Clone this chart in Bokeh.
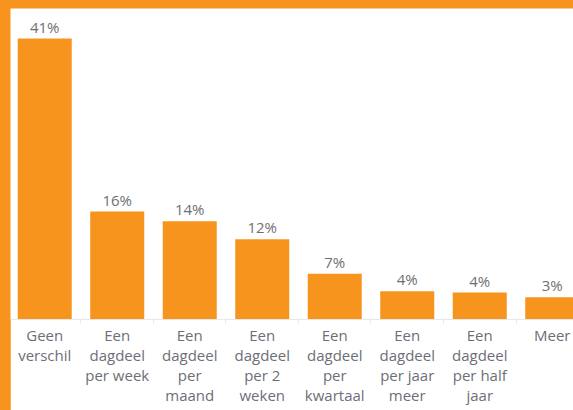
from bokeh.plotting import figure
from bokeh.models import ColumnDataSource, Range1d, FixedTicker
from bokeh.core.properties import value
from bokeh.embed import file_html
from bokeh.resources import INLINE

categories = ["Geen verschil", "Een dagdeel per week", "Een dagdeel per maand",
              "Een dagdeel per 2 weken", "Een dagdeel per kwartaal",
              "Een dagdeel per jaar meer", "Een dagdeel per half jaar", "Meer"]
tick_labels = ["Geen\nverschil", "Een\ndagdeel\nper week", "Een\ndagdeel\nper\nmaand",
               "Een\ndagdeel\nper 2\nweken", "Een\ndagdeel\nper\nkwartaal",
               "Een\ndagdeel\nper jaar\nmeer", "Een\ndagdeel\nper half\njaar", "Meer"]
percentages = [40.6, 15.6, 14.2, 11.6, 6.6, 4.1, 3.9, 3.2]

ORANGE = "#F7941E"
FONT = "Open Sans"

idx = list(range(len(categories)))
src = ColumnDataSource(dict(
    x=idx, top=percentages, cat=categories,
    lbl=[f"{round(v)}%" for v in percentages],
))

p = figure(frame_width=563, frame_height=311, output_backend="svg", toolbar_location=None,
           x_range=Range1d(-0.472, 7.293), y_range=Range1d(0, 44.94),
           min_border_left=0, min_border_right=0, min_border_top=0,
           min_border_bottom=100)
p.background_fill_color = "white"
p.border_fill_color = "white"
p.outline_line_color = None
p.grid.visible = False
p.yaxis.visible = False

p.vbar(x="x", top="top", width=0.745, bottom=0, source=src,
       fill_color=ORANGE, line_color=None)
p.text(x="x", y="top", text="lbl", source=src, text_align="center",
       text_baseline="bottom", y_offset=-2, text_font=value(FONT),
       text_font_size="15px", text_color="#707070")

ax = p.xaxis[0]
ax.ticker = FixedTicker(ticks=idx, minor_ticks=[i - 0.5 for i in range(len(categories) + 1)])
ax.major_label_overrides = {i: t for i, t in enumerate(tick_labels)}
ax.axis_line_color = "#e8e8e8"
ax.major_tick_line_color = None
ax.minor_tick_line_color = "#e8e8e8"
ax.minor_tick_in = 0
ax.minor_tick_out = 4
ax.major_tick_out = 0
ax.major_tick_in = 0
ax.major_label_standoff = 1
ax.major_label_text_font = FONT
ax.major_label_text_font_size = "15px"
ax.major_label_text_color = "#6e6e78"
ax.major_label_text_line_height = 1.0

html = file_html(p, INLINE)
style = ("<style>html,body{overflow:hidden;}body{margin:8px 0 0 10px;"
         "background:#F7941E;}</style>")
html = html.replace("</head>", style + "</head>", 1)
open("out.html", "w").write(html)
